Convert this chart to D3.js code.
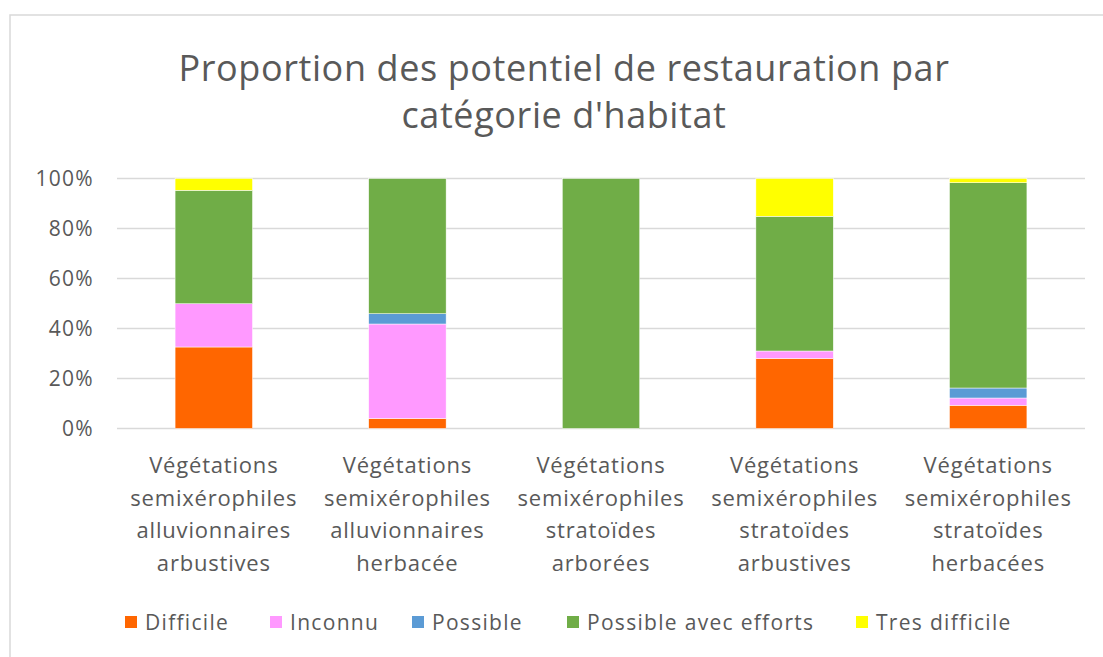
<!DOCTYPE html>
<html>
<head>
<meta charset="utf-8">
<script src="https://cdn.jsdelivr.net/npm/d3@7"></script>
<style>
  body { margin: 0; background: #fff; }
  text { font-family: "Open Sans", sans-serif; fill: #595959; }
</style>
</head>
<body>
<div class="chart"></div>
<script>
// categories and series (percent of each habitat)
var categories = [
  ["Végétations", "semixérophiles", "alluvionnaires", "arbustives"],
  ["Végétations", "semixérophiles", "alluvionnaires", "herbacée"],
  ["Végétations", "semixérophiles", "stratoïdes", "arborées"],
  ["Végétations", "semixérophiles", "stratoïdes", "arbustives"],
  ["Végétations", "semixérophiles", "stratoïdes", "herbacées"]
];
var seriesNames = ["Difficile", "Inconnu", "Possible", "Possible avec efforts", "Tres difficile"];
var difficile = [32.6, 4.0, 0, 28.0, 9.3];
var inconnu = [17.3, 37.8, 0, 3.0, 2.9];
var possible = [0, 4.1, 0, 0, 4.0];
var possibleEfforts = [45.4, 54.1, 100, 53.9, 82.1];
var tresDifficile = [4.7, 0, 0, 15.1, 1.7];
var yTicks = [0, 20, 40, 60, 80, 100];
var colors = ["#FF6600", "#FF99FF", "#5B9BD5", "#70AD47", "#FFFF00"];

function init(){
  var w = 1103;
  var h = 657;

  var svg = d3.select(".chart")
              .append("svg")
              .attr("width", w)
              .attr("height", h);

  // chart border
  svg.append("rect")
      .attr("x", 10)
      .attr("y", 15)
      .attr("width", 1110)
      .attr("height", 700)
      .attr("fill", "none")
      .attr("stroke", "#d9d9d9")
      .attr("stroke-width", 1.5);

  // title
  svg.append("text")
      .attr("x", 564)
      .attr("y", 81)
      .attr("text-anchor", "middle")
      .style("font-size", "36px")
      .style("letter-spacing", "0.6px")
      .text("Proportion des potentiel de restauration par");
  svg.append("text")
      .attr("x", 564)
      .attr("y", 128)
      .attr("text-anchor", "middle")
      .style("font-size", "36px")
      .style("letter-spacing", "0.6px")
      .text("catégorie d'habitat");

  var valuesBySeries = [difficile, inconnu, possible, possibleEfforts, tresDifficile];
  var table = categories.map(function(c, i){
    var row = {idx: i};
    seriesNames.forEach(function(s, j){ row[s] = valuesBySeries[j][i]; });
    return row;
  });
  var stacked = d3.stack().keys(seriesNames)(table);

  var x = d3.scaleBand()
            .domain(d3.range(categories.length))
            .range([117, 1085])
            .paddingInner(0.6)
            .paddingOuter(0.3);

  var y = d3.scaleLinear()
            .domain([0, 100])
            .range([428.5, 178.5]);

  // gridlines
  svg.append("g")
      .selectAll("line")
      .data(yTicks)
      .join("line")
        .attr("x1", 117)
        .attr("x2", 1085)
        .attr("y1", function(d){ return y(d); })
        .attr("y2", function(d){ return y(d); })
        .attr("stroke", "#d9d9d9")
        .attr("stroke-width", 1.5);

  var yAxis = d3.axisLeft(y)
                .tickValues(yTicks)
                .tickSize(0)
                .tickPadding(0)
                .tickFormat(function(d){ return d + "%"; });

  var yg = svg.append("g")
      .attr("transform", "translate(94,0)")
      .call(yAxis);
  yg.select(".domain").remove();
  yg.selectAll("text")
      .style("font-size", "21px")
      .style("font-family", "Open Sans")
      .style("letter-spacing", "1.3px")
      .attr("fill", "#595959");

  // bars
  svg.append("g")
    .selectAll("g")
    .data(stacked)
    .join("g")
      .attr("fill", function(d, i){ return colors[i]; })
    .selectAll("rect")
    .data(function(d){ return d; })
    .join("rect")
      .attr("x", function(d){ return x(d.data.idx); })
      .attr("y", function(d){ return y(d[1]); })
      .attr("width", x.bandwidth())
      .attr("height", function(d){ return y(d[0]) - y(d[1]); })
      .attr("stroke", "#fff")
      .attr("stroke-width", function(d){ return d[1] - d[0] > 0 ? 0.5 : 0; });

  // category labels
  var labels = svg.append("g")
    .selectAll("text")
    .data(categories)
    .join("text")
      .attr("text-anchor", "middle")
      .style("font-size", "22px")
      .style("letter-spacing", "0.8px")
      .attr("transform", function(d, i){
        return "translate(" + (x(i) + x.bandwidth() / 2) + ",473)";
      });
  labels.selectAll("tspan")
      .data(function(d){ return d; })
      .join("tspan")
        .attr("x", 0)
        .attr("y", function(d, i){ return i * 32.7; })
        .text(function(d){ return d; });

  // legend
  var legendX = [125, 270, 412, 567, 856];
  var legend = svg.append("g")
    .selectAll("g")
    .data(seriesNames)
    .join("g")
      .attr("transform", function(d, i){ return "translate(" + legendX[i] + ",616)"; });
  legend.append("rect")
      .attr("width", 12)
      .attr("height", 12)
      .attr("fill", function(d, i){ return colors[i]; });
  legend.append("text")
      .attr("x", 20)
      .attr("y", 14)
      .style("font-size", "21px")
      .style("letter-spacing", "1.3px")
      .text(function(d){ return d; });
}

window.onload = init;
</script>
</body>
</html>
